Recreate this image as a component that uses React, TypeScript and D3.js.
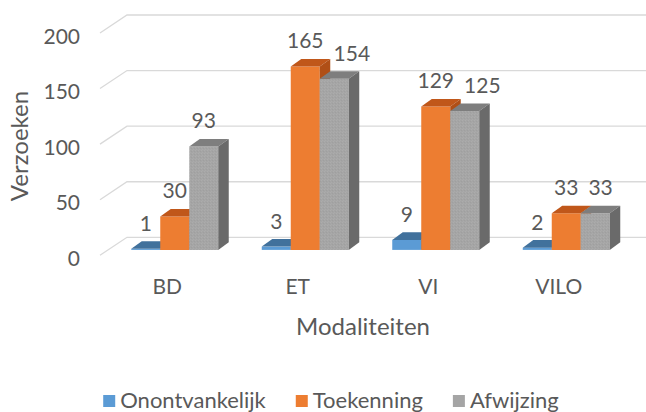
import { useEffect, useRef } from 'react';
import * as d3 from 'd3';

const categories = ['BD', 'ET', 'VI', 'VILO'];
const seriesNames = ['Onontvankelijk', 'Toekenning', 'Afwijzing'];
const onontvankelijk = [1, 3, 9, 2];
const toekenning = [30, 165, 129, 33];
const afwijzing = [93, 154, 125, 33];
const yTicks = [0, 50, 100, 150, 200];

const W = 646;
const H = 412;
const FONT = 'Lato, "Open Sans", sans-serif';
const TEXT = '#595959';

// face colours per series: front, top, side
const palette = [
  { front: '#5b9bd5', top: '#41719c', side: '#3a6690' },
  { front: '#ed7d31', top: '#c0571a', side: '#b04f16' },
  { front: 'url(#grayTex)', top: '#7e7e7e', side: '#6a6a6a' },
];
const legendFill = ['#5b9bd5', '#ed7d31', '#a5a5a5'];

const App = () => {
  const ref = useRef<HTMLDivElement | null>(null);

  useEffect(() => {
    document.body.style.margin = '0';
    if (!ref.current) return;
    ref.current.innerHTML = '';

    const values = [onontvankelijk, toekenning, afwijzing];

    // depth of the 3D box and of the bars inside it
    const DX = 25;
    const DY = 18;
    const z0 = 0.3;
    const z1 = 0.72;

    const x = d3.scaleBand<string>().domain(categories).range([102, 624]);
    const groupW = 87;
    const xInner = d3.scaleBand<string>().domain(seriesNames).range([0, groupW]);
    const y = d3.scaleLinear().domain([0, 200]).range([255.3, 33]);

    const proj = (px: number, v: number, z: number): [number, number] => [px + z * DX, y(v) - z * DY];

    const svg = d3
      .create('svg')
      .attr('width', W)
      .attr('height', H)
      .attr('viewBox', [0, 0, W, H])
      .attr('font-family', FONT)
      .style('display', 'block')
      .style('background', '#fff');
    ref.current.appendChild(svg.node() as Node);

    const defs = svg.append('defs');
    const pat = defs
      .append('pattern')
      .attr('id', 'grayTex')
      .attr('width', 3)
      .attr('height', 3)
      .attr('patternUnits', 'userSpaceOnUse');
    pat.append('rect').attr('width', 3).attr('height', 3).attr('fill', '#a5a5a5');
    pat.append('rect').attr('x', 0).attr('y', 0).attr('width', 1).attr('height', 1).attr('fill', '#acacac');
    pat.append('rect').attr('x', 2).attr('y', 1).attr('width', 1).attr('height', 1).attr('fill', '#9f9f9f');
    pat.append('rect').attr('x', 1).attr('y', 2).attr('width', 1).attr('height', 1).attr('fill', '#aaaaaa');

    // grid: side wall diagonal + back wall line
    const [x0, x1] = x.range();
    const gridLine = d3.line();
    svg
      .append('g')
      .selectAll('path')
      .data(yTicks)
      .join('path')
      .attr('fill', 'none')
      .attr('stroke', '#d9d9d9')
      .attr('stroke-width', 1.3)
      .attr('d', t => gridLine([proj(x0 - 2, t, 0), proj(x0, t, 1), proj(x1 + 10, t, 1)]));

    // y tick labels
    svg
      .append('g')
      .selectAll('text')
      .data(yTicks)
      .join('text')
      .attr('x', 80)
      .attr('y', t => y(t) + 2)
      .attr('text-anchor', 'end')
      .attr('dominant-baseline', 'central')
      .attr('font-size', 21)
      .attr('fill', TEXT)
      .text(t => t);

    // bars
    const bars = svg.append('g');
    const poly = (pts: [number, number][]) => 'M' + pts.map(p => p.join(',')).join('L') + 'Z';
    categories.forEach((c, ci) => {
      seriesNames.forEach((s, si) => {
        const v = values[si][ci];
        const a = (x(c) as number) + x.bandwidth() / 2 - groupW / 2 + (xInner(s) as number);
        const w = xInner.bandwidth();
        const g = bars.append('g');
        g.append('path')
          .attr('fill', palette[si].front)
          .attr('d', poly([proj(a, 0, z0), proj(a + w, 0, z0), proj(a + w, v, z0), proj(a, v, z0)]));
        g.append('path')
          .attr('fill', palette[si].top)
          .attr('d', poly([proj(a, v, z0), proj(a + w, v, z0), proj(a + w, v, z1), proj(a, v, z1)]));
        g.append('path')
          .attr('fill', palette[si].side)
          .attr('d', poly([proj(a + w, 0, z0), proj(a + w, 0, z1), proj(a + w, v, z1), proj(a + w, v, z0)]));
      });
    });

    // value labels, pushed right when they would collide with the previous one
    const labels = svg.append('g').attr('font-size', 21).attr('fill', TEXT);
    categories.forEach((c, ci) => {
      let prev: { right: number; base: number } | null = null;
      seriesNames.forEach((s, si) => {
        const v = values[si][ci];
        const a = (x(c) as number) + x.bandwidth() / 2 - groupW / 2 + (xInner(s) as number);
        const cx = a + xInner.bandwidth() / 2 + z0 * DX;
        const base = y(v) - z1 * DY - 10.5;
        const t = labels.append('text').attr('x', cx).attr('y', base).attr('text-anchor', 'middle').text(v);
        const bw = (t.node() as SVGTextElement).getComputedTextLength();
        let left = cx - bw / 2;
        if (prev && Math.abs(prev.base - base) < 16 && left < prev.right + 10) {
          left = prev.right + 10;
          t.attr('x', left + bw / 2);
        }
        prev = { right: left + bw, base };
      });
    });

    // category labels
    svg
      .append('g')
      .selectAll('text')
      .data(categories)
      .join('text')
      .attr('x', c => (x(c) as number) + x.bandwidth() / 2)
      .attr('y', 294)
      .attr('text-anchor', 'middle')
      .attr('font-size', 21)
      .attr('fill', TEXT)
      .text(c => c);

    // axis titles
    svg
      .append('text')
      .attr('x', 363)
      .attr('y', 335)
      .attr('text-anchor', 'middle')
      .attr('font-size', 24)
      .attr('fill', TEXT)
      .text('Modaliteiten');

    svg
      .append('text')
      .attr('transform', 'translate(28,146) rotate(-90)')
      .attr('text-anchor', 'middle')
      .attr('font-size', 24)
      .attr('fill', TEXT)
      .text('Verzoeken');

    // legend
    const legend = svg.append('g').attr('font-size', 22).attr('fill', TEXT);
    const items = seriesNames.map((s, i) => {
      const g = legend.append('g');
      g.append('rect').attr('width', 12).attr('height', 12).attr('y', 395).attr('fill', legendFill[i]);
      const t = g.append('text').attr('x', 17).attr('y', 408).text(s);
      return { g, w: 17 + (t.node() as SVGTextElement).getComputedTextLength() };
    });
    const gap = 30;
    const total = d3.sum(items, d => d.w) + gap * (items.length - 1);
    let cursor = 331 - total / 2;
    items.forEach(it => {
      it.g.attr('transform', `translate(${cursor},0)`);
      cursor += it.w + gap;
    });
  }, []);

  return <div ref={ref} />;
};

export default App;
